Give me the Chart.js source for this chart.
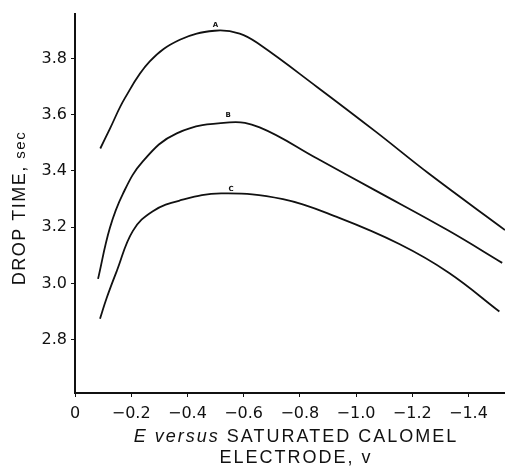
<!DOCTYPE html>
<html lang="en">

<head>
  <meta charset="UTF-8" />
  <script src="https://cdn.jsdelivr.net/npm/chart.js@4.4.0/dist/chart.umd.min.js"></script>
  <style>
    body { margin: 0; background: #fff; }
    #wrap { width: 505px; height: 469px; }
  </style>
</head>

<body>
  <div id="wrap"><canvas id="dropChart"></canvas></div>

  <script>
    // potential E vs SCE (volts) and drop time (sec)
    let curveA_E = [-0.09, -0.124, -0.178, -0.266, -0.373, -0.497, -0.586, -0.657, -0.86, -1.07, -1.26, -1.53];
    let curveA_t = [3.48, 3.55, 3.66, 3.79, 3.867, 3.899, 3.889, 3.85, 3.70, 3.54, 3.39, 3.19];

    let curveB_E = [-0.082, -0.124, -0.17, -0.242, -0.362, -0.55, -0.657, -0.86, -1.07, -1.33, -1.52];
    let curveB_t = [3.016, 3.197, 3.318, 3.435, 3.534, 3.573, 3.555, 3.445, 3.33, 3.187, 3.073];

    let curveC_E = [-0.089, -0.113, -0.149, -0.206, -0.277, -0.373, -0.52, -0.74, -0.94, -1.154, -1.33, -1.51];
    let curveC_t = [2.874, 2.949, 3.045, 3.187, 3.257, 3.295, 3.32, 3.30, 3.233, 3.14, 3.038, 2.90];

    let curveNames = ['A', 'B', 'C'];
    let namePosE = [-0.50, -0.545, -0.555];
    let namePosT = [3.92, 3.60, 3.335];

    let xTicks = [0, -0.2, -0.4, -0.6, -0.8, -1.0, -1.2, -1.4];
    let yTicks = [2.8, 3.0, 3.2, 3.4, 3.6, 3.8];

    function toPoints(xs, ys) {
      let pts = [];
      for (let i = 0; i < xs.length; i++) {
        pts.push({ x: xs[i], y: ys[i] });
      }
      return pts;
    }

    function lineSet(xs, ys) {
      return {
        data: toPoints(xs, ys),
        borderColor: '#111',
        borderWidth: 1.8,
        pointRadius: 0,
        fill: false,
        tension: 0.4
      };
    }

    // draws the curve letters and the two axis titles
    const extras = {
      id: 'extras',
      afterDraw(chart) {
        let ctx = chart.ctx;
        let xs = chart.scales.x;
        let ys = chart.scales.y;
        ctx.save();
        ctx.fillStyle = '#111';
        ctx.textAlign = 'center';
        ctx.textBaseline = 'middle';
        ctx.font = 'bold 7px "DejaVu Sans"';
        for (let i = 0; i < curveNames.length; i++) {
          ctx.fillText(curveNames[i], xs.getPixelForValue(namePosE[i]), ys.getPixelForValue(namePosT[i]));
        }

        // y title
        ctx.save();
        ctx.translate(20, 208);
        ctx.rotate(-Math.PI / 2);
        ctx.letterSpacing = '1.5px';
        let big = '18px "Liberation Sans"';
        let small = '15px "Liberation Sans"';
        ctx.font = big;
        let w1 = ctx.measureText('DROP TIME, ').width;
        ctx.font = small;
        let w2 = ctx.measureText('sec').width;
        let sx = -(w1 + w2) / 2;
        ctx.textAlign = 'left';
        ctx.font = big;
        ctx.fillText('DROP TIME, ', sx, 0);
        ctx.font = small;
        ctx.fillText('sec', sx + w1, 1);
        ctx.restore();

        // x title, two lines, "E versus" in italics
        ctx.letterSpacing = '2px';
        ctx.textAlign = 'left';
        let it = 'italic 18px "Liberation Sans"';
        let rg = '18px "Liberation Sans"';
        ctx.font = it;
        let a = ctx.measureText('E versus ').width;
        ctx.font = rg;
        let b = ctx.measureText('SATURATED CALOMEL').width;
        let cx = 296;
        let start = cx - (a + b) / 2;
        ctx.font = it;
        ctx.fillText('E versus ', start, 437);
        ctx.font = rg;
        ctx.fillText('SATURATED CALOMEL', start + a, 437);
        ctx.textAlign = 'center';
        ctx.fillText('ELECTRODE, v', cx, 458);
        ctx.restore();
      }
    };

    var ctx = document.getElementById('dropChart').getContext('2d');
    var chart = new Chart(ctx, {
      type: 'line',
      data: {
        datasets: [
          lineSet(curveA_E, curveA_t),
          lineSet(curveB_E, curveB_t),
          lineSet(curveC_E, curveC_t)
        ]
      },
      options: {
        responsive: true,
        maintainAspectRatio: false,
        animation: false,
        layout: { padding: { top: 12, right: 0, left: 0, bottom: 0 } },
        plugins: {
          legend: { display: false },
          tooltip: { enabled: false }
        },
        scales: {
          x: {
            type: 'linear',
            min: -1.53,
            max: 0,
            reverse: true,
            afterBuildTicks: function (scale) {
              scale.ticks = xTicks.map(v => ({ value: v }));
            },
            afterFit: function (scale) { scale.height = 76; },
            border: { display: true, color: '#111', width: 2 },
            grid: { drawOnChartArea: false, drawTicks: true, tickLength: 4, color: '#111' },
            ticks: {
              color: '#111',
              padding: 7,
              maxRotation: 0,
              autoSkip: false,
              font: { family: 'DejaVu Sans', size: 16 },
              callback: function (v) {
                if (Math.abs(v) < 1e-9) return '0';
                return '\u2212' + Math.abs(v).toFixed(1);
              }
            }
          },
          y: {
            type: 'linear',
            min: 2.61,
            max: 3.96,
            afterBuildTicks: function (scale) {
              scale.ticks = yTicks.map(v => ({ value: v }));
            },
            afterFit: function (scale) { scale.width = 75; },
            border: { display: true, color: '#111', width: 2 },
            grid: { drawOnChartArea: false, drawTicks: true, tickLength: 4, color: '#111' },
            ticks: {
              color: '#111',
              padding: 4,
              font: { family: 'DejaVu Sans', size: 16 },
              callback: function (v) { return v.toFixed(1); }
            }
          }
        }
      },
      plugins: [extras]
    });
  </script>
</body>

</html>
